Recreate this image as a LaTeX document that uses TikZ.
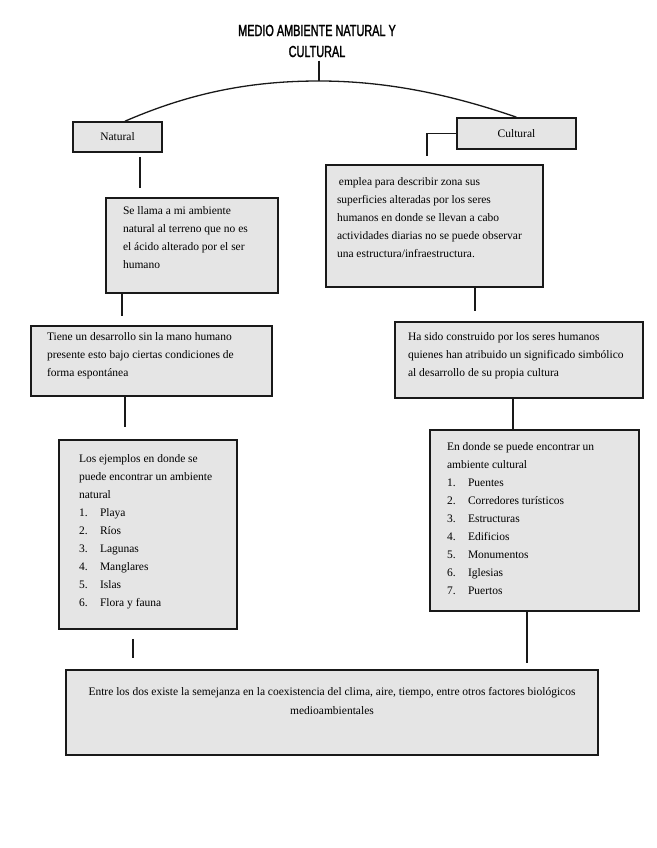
\documentclass[tikz,border=0pt]{standalone}
\usepackage{fontspec}
\setmainfont{Liberation Serif}
\newfontfamily\titlefont[FakeStretch=0.68,FakeBold=1.5]{Liberation Sans}
\usepackage{tikz}
\tikzset{
    concept-box/.style = {draw=black!90, fill=black!10, line width=1.6pt, rectangle, font=\fontsize{11.5}{18}\selectfont},
    label-box/.style = {draw=black!90, fill=black!10, line width=1.6pt, rectangle, inner sep=2pt, font=\fontsize{11.5}{12}\selectfont},
    title-text/.style = {align=center, font=\titlefont\fontsize{16}{21}\selectfont},
    link/.style = {line width=1.3pt, black!90},
}
\newcommand{\boxtext}[3]{\begin{minipage}[c][#2][t]{#1}\raggedright #3\end{minipage}}
\newcommand{\itm}[2]{\makebox[21pt][l]{#1.}#2}

\begin{document}
\begin{tikzpicture}[x=1pt, y=-1pt]
\useasboundingbox (0,0) rectangle (656,848);
\node[title-text] (title) at (317,41) {MEDIO AMBIENTE NATURAL Y\\CULTURAL};
\coordinate (apex) at (319,81);
\node[label-box, minimum width=89pt, minimum height=30pt] (natural) at (117.5,137) {Natural};
\node[label-box, minimum width=119pt, minimum height=31pt] (cultural) at (516.5,133.5) {Cultural};

\node[concept-box, inner xsep=17pt, inner ysep=8.5pt] (nat-def) at (192,245.5) {\boxtext{138pt}{78pt}{Se llama a mi ambiente\\natural al terreno que no es\\el ácido alterado por el ser\\humano}};
\node[concept-box, inner xsep=11pt, inner ysep=12.5pt] (cul-def) at (434.5,226) {\boxtext{195pt}{97pt}{\,emplea para describir zona sus\\superficies alteradas por los seres\\humanos en donde se llevan a cabo\\actividades diarias no se puede observar\\una estructura/infraestructura.}};
\node[concept-box, inner xsep=16pt, inner ysep=6.5pt] (nat-dev) at (151.5,361) {\boxtext{209pt}{57pt}{Tiene un desarrollo sin la mano humano\\presente esto bajo ciertas condiciones de\\forma espontánea}};
\node[concept-box, inner xsep=13pt, inner ysep=10.5pt] (cul-dev) at (519,360) {\boxtext{222pt}{55pt}{Ha sido construido por los seres humanos\\quienes han atribuido un significado simbólico\\al desarrollo de su propia cultura}};
\node[concept-box, inner xsep=20pt, inner ysep=14.5pt] (nat-list) at (148,534.5) {\boxtext{138pt}{160pt}{Los ejemplos en donde se\\puede encontrar un ambiente\\natural\\
    \itm{1}{Playa}\\\itm{2}{Ríos}\\\itm{3}{Lagunas}\\\itm{4}{Manglares}\\\itm{5}{Islas}\\\itm{6}{Flora y fauna}}};
\node[concept-box, inner xsep=17pt, inner ysep=12.5pt] (cul-list) at (534.5,520.5) {\boxtext{175pt}{156pt}{En donde se puede encontrar un\\ambiente cultural\\
    \itm{1}{Puentes}\\\itm{2}{Corredores turísticos}\\\itm{3}{Estructuras}\\\itm{4}{Edificios}\\\itm{5}{Monumentos}\\\itm{6}{Iglesias}\\\itm{7}{Puertos}}};
\node[concept-box, inner xsep=8pt, inner ysep=17.5pt, font=\fontsize{11.5}{19}\selectfont] (both) at (332,712.5) {\boxtext{516pt}{50pt}{\centering Entre los dos existe la semejanza en la coexistencia del clima, aire, tiempo, entre otros factores biológicos\\medioambientales}};

\draw[link] (apex |- title.south) -- (apex);
\draw[link] ([xshift=7.5pt]natural.north) .. controls (190,93) and (250,81) .. (apex) .. controls (390,81) and (455,96) .. (cultural.north);
\draw[link] ([xshift=22.5pt,yshift=-4pt]natural.south) -- ([xshift=-52pt,yshift=9pt]nat-def.north);
\draw[link] (cultural.west) -| ([xshift=-7.5pt,yshift=8pt]cul-def.north);
\draw[link] ([xshift=-70pt]nat-def.south) -- ([xshift=-29.5pt,yshift=9pt]nat-dev.north);
\draw[link] ([xshift=40.5pt]cul-def.south) -- ([xshift=-44pt,yshift=10pt]cul-dev.north);
\draw[link] ([xshift=-26.5pt]nat-dev.south) -- ([xshift=-23pt,yshift=12pt]nat-list.north);
\draw[link] ([xshift=-6pt]cul-dev.south) -- ([xshift=-21.5pt]cul-list.north);
\draw[link] ([xshift=-15pt,yshift=-9pt]nat-list.south) -- ([xshift=-199pt,yshift=11pt]both.north);
\draw[link] ([xshift=-7.5pt]cul-list.south) -- ([xshift=195pt,yshift=6pt]both.north);
\end{tikzpicture}
\end{document}
